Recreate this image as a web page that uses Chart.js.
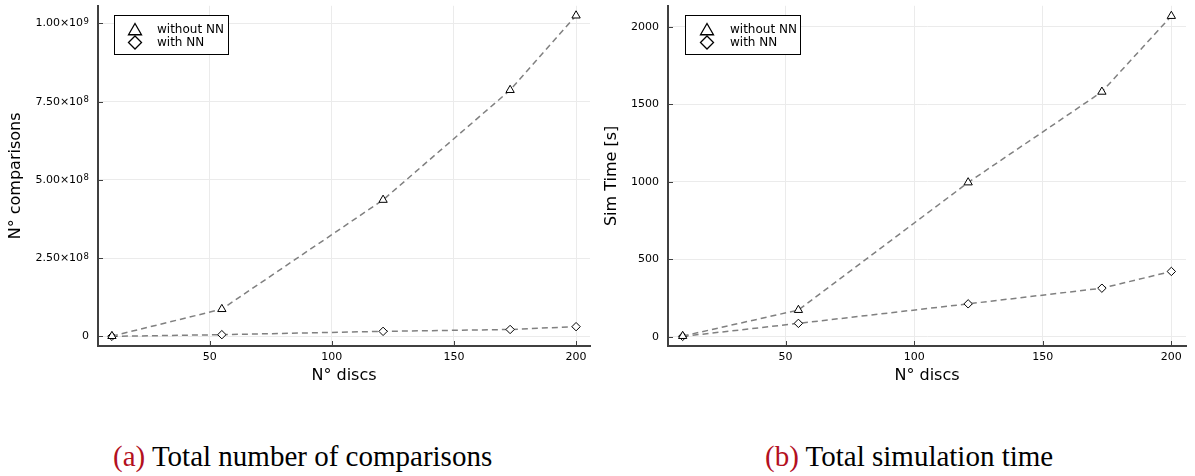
<!DOCTYPE html>
<html><head><meta charset="utf-8">
<script src="https://cdn.jsdelivr.net/npm/chart.js@4.4.0/dist/chart.umd.min.js"></script>
<style>
html,body{margin:0;padding:0;background:#fff;}
body{width:1195px;height:476px;position:relative;overflow:hidden;}
#c1{position:absolute;left:0;top:0;}
#c2{position:absolute;left:597px;top:0;}
.cap{position:absolute;top:440px;font-family:"Liberation Serif","DejaVu Serif",serif;font-size:29px;line-height:32px;color:#000;white-space:nowrap;}
.cap span{color:#b3101e;}
</style></head><body>
<canvas id="c1" width="597" height="400"></canvas>
<canvas id="c2" width="598" height="400"></canvas>
<div class="cap" id="capA" style="left:113px"><span>(a)</span> Total number of comparisons</div>
<div class="cap" id="capB" style="left:765px"><span>(b)</span> Total simulation time</div>
<script>
// ---- data ----
const discs = [10, 55, 121, 173, 200];
const comparisonsWithoutNN = [8e5, 8.7e7, 4.36e8, 7.87e8, 1.025e9];
const comparisonsWithNN = [1e5, 5.4e6, 1.6e7, 2.2e7, 3.1e7];
const timeWithoutNN = [4, 172, 995, 1580, 2069];
const timeWithNN = [2, 86, 212, 313, 421];
const seriesLabels = ["without NN", "with NN"];
const xTickValues = [50, 100, 150, 200];
const yTicksA = [0, 2.5e8, 5e8, 7.5e8, 1e9];
const yTickBaseA = ["0", "2.50×10", "5.00×10", "7.50×10", "1.00×10"];
const yTickExpA = ["", "8", "8", "8", "9"];
const yTicksB = [0, 500, 1000, 1500, 2000];
const yTickBaseB = ["0", "500", "1000", "1500", "2000"];
const yTickExpB = ["", "", "", "", ""];

const FONT = "DejaVu Sans";
const AXIS_COLOR = "#404040";
const GRID_COLOR = "#ebebeb";
const markerStyles = ["triangle", "rectRot"];

function pts(xs, ys){ return xs.map((x,i)=>({x:x, y:ys[i]})); }

const decor = {
  id: 'decor',
  afterDatasetsDraw(chart, args, opts){
    const ctx = chart.ctx, ca = chart.chartArea;
    const xs = chart.scales.x, ys = chart.scales.y;
    ctx.save();
    ctx.strokeStyle = AXIS_COLOR; ctx.lineWidth = 1;
    xs.ticks.forEach(t=>{
      const px = Math.round(xs.getPixelForValue(t.value)) + 0.5;
      ctx.beginPath(); ctx.moveTo(px, ca.bottom); ctx.lineTo(px, ca.bottom - 5); ctx.stroke();
    });
    ys.ticks.forEach(t=>{
      const py = Math.round(ys.getPixelForValue(t.value)) + 0.5;
      ctx.beginPath(); ctx.moveTo(ca.left, py); ctx.lineTo(ca.left + 5, py); ctx.stroke();
    });
    // y tick labels with superscript exponents
    ctx.fillStyle = '#000';
    ys.ticks.forEach((t, i)=>{
      const py = ys.getPixelForValue(t.value);
      const right = ca.left - 9;
      const exp = opts.exp[i] || "";
      ctx.font = "8.5px '" + FONT + "'";
      const ew = exp ? ctx.measureText(exp).width + 0.5 : 0;
      ctx.textAlign = 'right';
      if (exp) { ctx.textBaseline = 'alphabetic'; ctx.fillText(exp, right, py + 0.5); }
      ctx.font = "11px '" + FONT + "'";
      ctx.textBaseline = 'middle';
      ctx.fillText(opts.base[i], right - ew, py);
    });
    // legend
    const L = opts.box;
    ctx.fillStyle = '#fff';
    ctx.fillRect(L.x, L.y, L.w, L.h);
    ctx.strokeStyle = '#000'; ctx.lineWidth = 1;
    ctx.strokeRect(L.x + 0.5, L.y + 0.5, L.w, L.h);
    chart.data.datasets.forEach((ds, i)=>{
      const cy = L.y + 15 + i * 12.5;
      ctx.fillStyle = '#fff'; ctx.strokeStyle = '#000'; ctx.lineWidth = 1.3;
      Chart.helpers.drawPoint(ctx, {pointStyle: ds.pointStyle, radius: i===0 ? 7.5 : 6.5, borderWidth: 1.3}, L.mx, cy + (i===0 ? 1 : 0));
      ctx.fillStyle = '#000';
      ctx.font = "12px '" + FONT + "'";
      ctx.textBaseline = 'middle';
      ctx.textAlign = 'left';
      ctx.fillText(ds.label, L.tx, cy);
    });
    ctx.restore();
  }
};

function makeChart(id, ySeries, yTicks, yBase, yExp, yMin, yMax, yTitle, yWidth, padRight, legendBox, yTitlePad){
  const datasets = ySeries.map((ys, i)=>({
    label: seriesLabels[i],
    data: pts(discs, ys),
    borderColor: '#808080',
    borderWidth: 1.5,
    borderDash: [6, 4],
    pointStyle: markerStyles[i],
    pointRadius: i===0 ? 4.8 : 4.2,
    pointBorderColor: '#000',
    pointBackgroundColor: '#fff',
    pointBorderWidth: 1,
    fill: false,
    tension: 0
  }));
  return new Chart(document.getElementById(id), {
    type: 'line',
    data: { datasets },
    plugins: [decor],
    options: {
      responsive: false,
      animation: false,
      layout: { padding: { top: 4, right: padRight, left: 0, bottom: 0 } },
      plugins: { legend: { display: false }, tooltip: { enabled: false },
                 decor: { box: legendBox, base: yBase, exp: yExp } },
      scales: {
        x: {
          type: 'linear', min: 4.3, max: 205.7,
          afterBuildTicks: s => { s.ticks = xTickValues.map(v=>({value:v})); },
          afterFit: s => { s.height = 54; },
          grid: { color: GRID_COLOR, lineWidth: 1, drawTicks: false },
          border: { color: AXIS_COLOR, width: 2 },
          ticks: { color: '#000', font: { family: FONT, size: 11 }, padding: 5, maxRotation: 0, autoSkip: false },
          title: { display: true, text: 'N° discs', color: '#000', font: { family: FONT, size: 16 }, padding: { top: 0, bottom: 15 } }
        },
        y: {
          type: 'linear', min: yMin, max: yMax,
          afterBuildTicks: s => { s.ticks = yTicks.map(v=>({value:v})); },
          afterFit: s => { s.width = yWidth; },
          grid: { color: GRID_COLOR, lineWidth: 1, drawTicks: false },
          border: { color: AXIS_COLOR, width: 2 },
          ticks: { display: false },
          title: { display: true, text: yTitle, color: '#000', font: { family: FONT, size: 16 }, padding: { top: yTitlePad, bottom: 0 } }
        }
      }
    }
  });
}

makeChart('c1', [comparisonsWithoutNN, comparisonsWithNN], yTicksA, yTickBaseA, yTickExpA, -3.08e7, 1.0563e9,
  'N° comparisons', 98, 7, {x:114, y:15, w:114, h:39, mx:135, tx:157}, 6);
makeChart('c2', [timeWithoutNN, timeWithNN], yTicksB, yTickBaseB, yTickExpB, -60, 2135,
  'Sim Time [s]', 71, 9, {x:88, y:15, w:115, h:39, mx:110, tx:133}, 5);
</script>
</body></html>
